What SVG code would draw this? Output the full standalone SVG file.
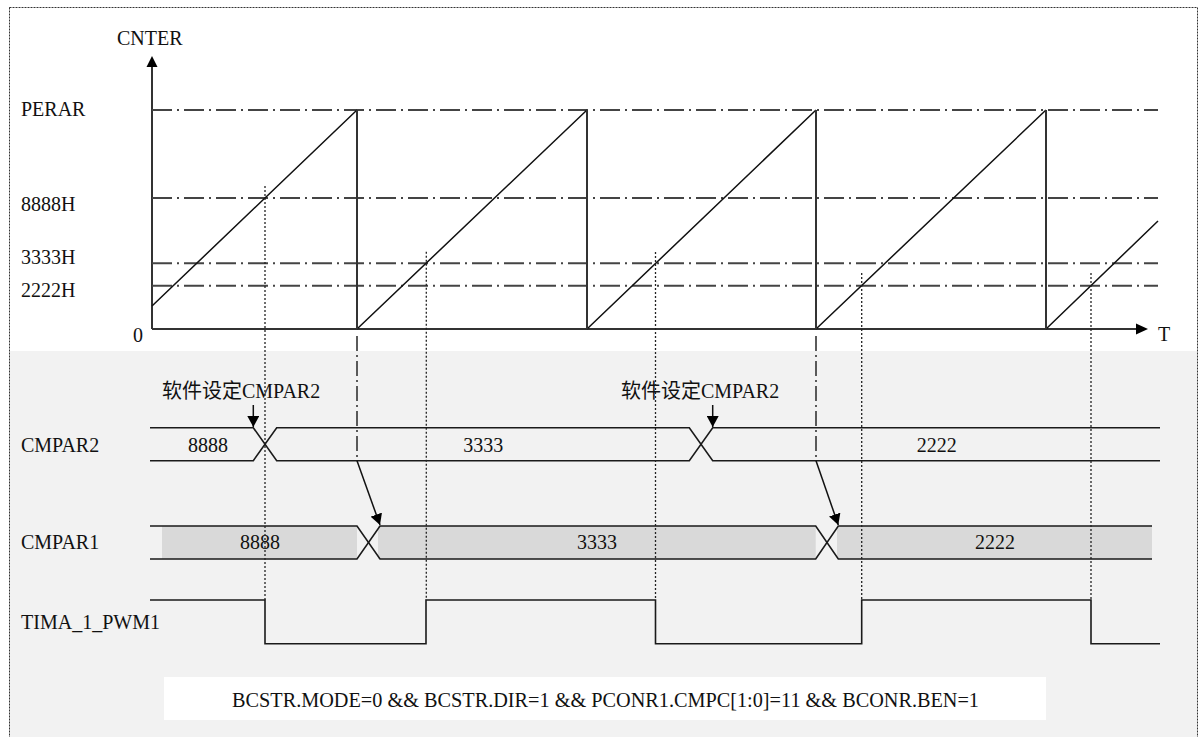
<svg xmlns="http://www.w3.org/2000/svg" width="1199" height="737" viewBox="0 0 1199 737">
<defs>
<style>
.t{font-family:"Liberation Serif","Noto Sans CJK SC",serif;font-size:20px;fill:#111}
.c{text-anchor:middle}
.ln{fill:none;stroke:#1a1a1a;stroke-width:1.6}
.ramp{fill:none;stroke:#111;stroke-width:1.5}
.drop{fill:none;stroke:#333;stroke-width:2}
.dd{fill:none;stroke:#444;stroke-width:2;stroke-dasharray:20 5 2 5}
.ddv{fill:none;stroke:#333;stroke-width:1.6;stroke-dasharray:15 4 2 4}
.dot{fill:none;stroke:#222;stroke-width:1.3;stroke-dasharray:2 2}
.arr{fill:none;stroke:#111;stroke-width:1.5}
</style>
<marker id="ah" markerUnits="userSpaceOnUse" markerWidth="12" markerHeight="12" refX="11" refY="6" orient="auto" viewBox="0 0 12 12">
<path d="M0,0 L11,6 L0,12 z" fill="#000"/>
</marker>
</defs>

<rect x="0" y="0" width="1199" height="737" fill="#fff"/>
<rect x="9" y="351" width="1188" height="386" fill="#f2f2f2"/>
<rect x="9.5" y="7.5" width="1188" height="745" fill="none" stroke="#333" stroke-width="1" stroke-dasharray="2 1"/>

<g id="axes">
<path class="drop" d="M152,329 V66"/>
<path class="drop" d="M152,329 H1138"/>
<path d="M146.5,67 L152,56 L157.5,67 z" fill="#000"/>
<path d="M1136,323.5 L1148,329 L1136,334.5 z" fill="#000"/>
<text class="t" x="117" y="45">CNTER</text>
<text class="t" x="1158" y="341">T</text>
<text class="t" x="133" y="342">0</text>
</g>

<g id="levels">
<path class="dd" d="M152,110 H1158"/>
<path class="dd" d="M152,198 H1158"/>
<path class="dd" d="M152,263.3 H1158"/>
<path class="dd" d="M152,285.7 H1158"/>
<text class="t" x="21" y="116">PERAR</text>
<text class="t" x="21" y="210.5">8888H</text>
<text class="t" x="21" y="264">3333H</text>
<text class="t" x="21" y="296.5">2222H</text>
</g>

<g id="counter">
<path class="ramp" d="M152,306 L357,110 M357,329 L587,110 M587,329 L816,110 M816,329 L1046,110 M1046,329 L1158,221"/>
<path class="drop" d="M357,110 V329 M587,110 V329 M816,110 V329 M1046,110 V329"/>
</g>

<g id="cmpar2">
<text class="t" x="21" y="451.5">CMPAR2</text>
<path class="ln" d="M150,427.7 H253.3 L276.7,460.7 H689.3 L712.7,427.7 H1160"/>
<path class="ln" d="M150,460.7 H253.3 L276.7,427.7 H689.3 L712.7,460.7 H1160"/>
<text class="t c" x="208" y="451.5">8888</text>
<text class="t c" x="483.3" y="451.5">3333</text>
<text class="t c" x="936.7" y="451.5">2222</text>
</g>

<g id="cmpar1">
<text class="t" x="21" y="549">CMPAR1</text>
<rect x="162" y="526" width="195" height="33" fill="#d9d9d9"/>
<rect x="378" y="526" width="437.7" height="33" fill="#d9d9d9"/>
<rect x="837" y="526" width="315" height="33" fill="#d9d9d9"/>
<path class="ln" d="M150,526 H357 L380,559 H815.7 L838.3,526 H1152"/>
<path class="ln" d="M150,559 H357 L380,526 H815.7 L838.3,559 H1152"/>
<text class="t c" x="260" y="549">8888</text>
<text class="t c" x="597" y="549">3333</text>
<text class="t c" x="995" y="549">2222</text>
</g>

<g id="pwm">
<text class="t" x="21" y="629" textLength="139" lengthAdjust="spacingAndGlyphs">TIMA_1_PWM1</text>
<path class="ln" d="M150,600 H265 V643.7 H426 V600 H655.5 V643.7 H861.7 V600 H1091 V643.7 H1160"/>
</g>

<g id="notes">
<text class="t" x="162" y="397.5">软件设定CMPAR2</text>
<text class="t" x="621" y="397.5">软件设定CMPAR2</text>
</g>

<g id="condition">
<rect x="164" y="677" width="882" height="43" fill="#fff"/>
<text class="t" x="232" y="706.5" textLength="747" lengthAdjust="spacingAndGlyphs">BCSTR.MODE=0 &amp;&amp; BCSTR.DIR=1 &amp;&amp; PCONR1.CMPC[1:0]=11 &amp;&amp; BCONR.BEN=1</text>
</g>

<g id="connectors">
<path class="dot" d="M265,186 V600"/>
<path class="dot" d="M426.3,251.7 V600"/>
<path class="dot" d="M655.5,252 V600"/>
<path class="dot" d="M861.7,273 V600"/>
<path class="dot" d="M1091,273 V600"/>
<path class="ddv" d="M357,336 V460.7"/>
<path class="ddv" d="M816,336 V460.7"/>
<path class="arr" d="M253.3,405 V427" marker-end="url(#ah)"/>
<path class="arr" d="M712.7,405 V427" marker-end="url(#ah)"/>
<path class="arr" d="M357,460.7 L380,525" marker-end="url(#ah)"/>
<path class="arr" d="M816,460.7 L838.3,525" marker-end="url(#ah)"/>
</g>
</svg>
